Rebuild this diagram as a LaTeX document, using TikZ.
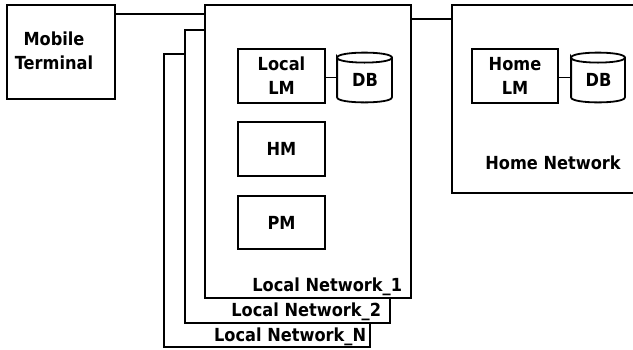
\documentclass[tikz,border=0pt]{standalone}
\usepackage{fontspec}
\setmainfont{DejaVu Sans}[FakeStretch=0.9]
\usetikzlibrary{calc}
\newcommand\mydbshape[1]{%
\draw[conn] ($(#1.north west)+(0,5)$) .. controls ($(#1.north west)+(0,-1.67)$) and ($(#1.north east)+(0,-1.67)$) .. ($(#1.north east)+(0,5)$)
 .. controls ($(#1.north east)+(0,11.67)$) and ($(#1.north west)+(0,11.67)$) .. ($(#1.north west)+(0,5)$)
 -- ($(#1.south west)+(0,-5)$) .. controls ($(#1.south west)+(0,1.67)$) and ($(#1.south east)+(0,1.67)$) .. ($(#1.south east)+(0,-5)$) -- ($(#1.north east)+(0,5)$);}
\begin{document}
\begin{tikzpicture}[x=1pt,y=-1pt,line width=1.8pt,
  conn/.style={line width=1.8pt, line cap=rect},
  txt/.style={font=\bfseries\fontsize{18}{24}\selectfont, align=center, inner sep=0pt},
  box/.style={draw, fill=white, inner sep=0pt, line width=1.8pt, txt},
  netlbl/.style={txt, anchor=east}]
\useasboundingbox (0,0) rectangle (633,349);
% mobile terminal
\node[box, minimum width=108, minimum height=94] (mt) at (61,52) {};
\node[txt] (mtl) at (54,51) {Mobile\\Terminal};
% local networks
\node[box, minimum width=206, minimum height=293] (lnN) at (267,200.5) {};
\node[box, minimum width=205, minimum height=293] (ln2) at (287.5,176.5) {};
\node[box, minimum width=206, minimum height=293] (ln1) at (308,151.5) {};
\node[netlbl] (lnNl) at (367,337) {Local Network\_N};
\node[netlbl] (ln2l) at (382,312) {Local Network\_2};
\node[netlbl] (ln1l) at (403,287) {Local Network\_1};
\node[box, minimum width=87, minimum height=54] (llm) at (281.5,76) {Local\\LM};
\node[box, minimum width=87, minimum height=54] (hm) at (281.5,149) {HM};
\node[box, minimum width=87, minimum height=53] (pm) at (281.5,222.5) {PM};
\node[txt, minimum width=53, minimum height=48] (db1) at (364.5,77.5) {};
\mydbshape{db1}
\node[txt] (db1l) at (365,80) {DB};
% home network
\node[box, minimum width=193, minimum height=188] (hn) at (548.5,99) {};
\node[txt] (hnl) at (553,163) {Home Network};
\node[box, minimum width=86, minimum height=54] (hlm) at (515,76) {Home\\LM};
\node[txt, minimum width=52, minimum height=48] (db2) at (598,77.5) {};
\mydbshape{db2}
\node[txt] (db2l) at (598.5,80) {DB};
% connectors
\coordinate (c1) at ([yshift=-10pt]mt.north east);
\draw[conn] (c1) -- (c1 -| ln1.west);
\coordinate (c2) at ([yshift=-15pt]ln1.north east);
\draw[conn] (c2) -- (c2 -| hn.west);
\draw[conn] (llm.east |- db1.west) -- (db1.west);
\draw[conn] (hlm.east |- db2.west) -- (db2.west);
\end{tikzpicture}
\end{document}
